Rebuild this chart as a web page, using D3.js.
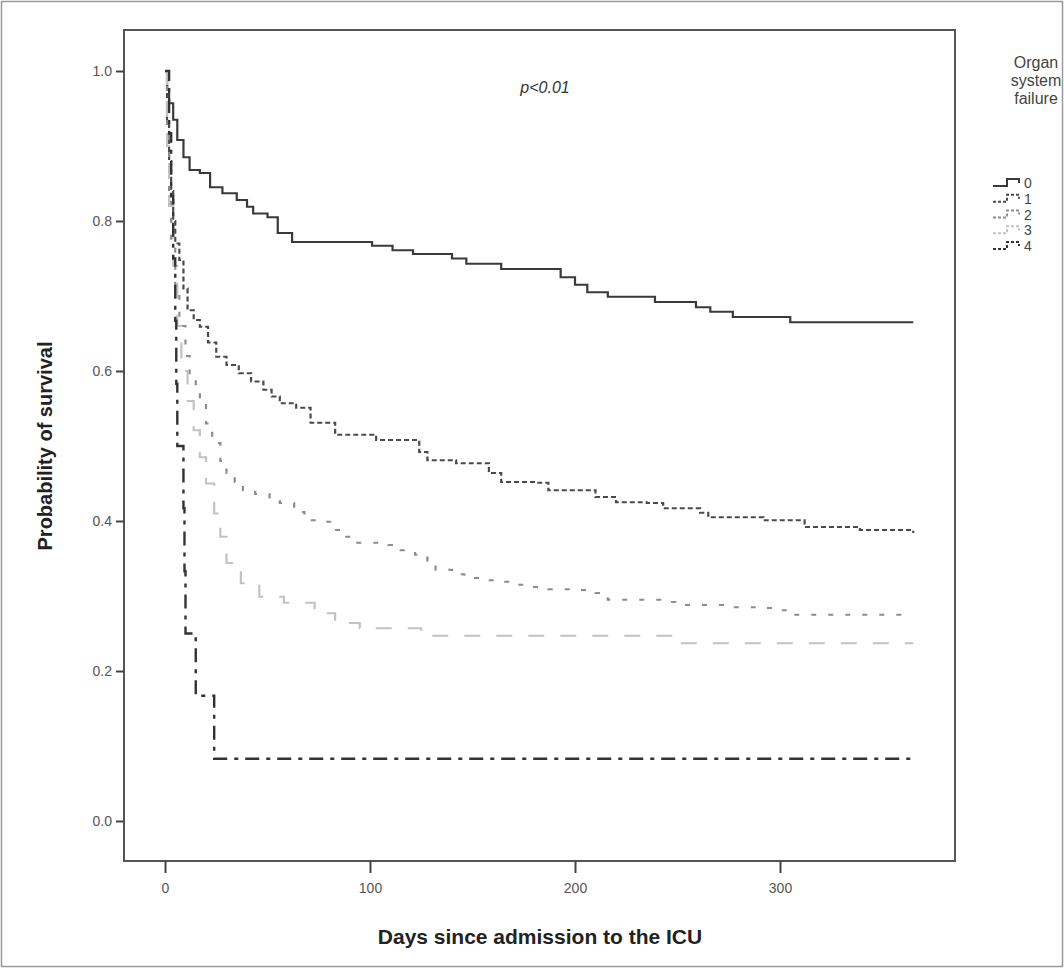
<!DOCTYPE html>
<html>
<head>
<meta charset="utf-8">
<script src="https://cdn.jsdelivr.net/npm/d3@7"></script>
<style>
  html, body { margin: 0; padding: 0; background: #fff; }
  svg { display: block; }
</style>
</head>
<body>
<svg id="chart" width="1064" height="968"></svg>
<script>
// ---- Data ----
const groups = ["0", "1", "2", "3", "4"];
const xTicks = [0, 100, 200, 300];
const yTicks = [0.0, 0.2, 0.4, 0.6, 0.8, 1.0];

const days0 = [0,1,2,4,6,9,12,17,22,28,35,40,43,50,55,62,101,111,121,140,147,164,193,200,206,216,239,259,266,277,305,365];
const surv0 = [1.0,0.975,0.957,0.935,0.908,0.885,0.868,0.864,0.845,0.837,0.828,0.819,0.81,0.805,0.784,0.772,0.767,0.761,0.756,0.75,0.743,0.736,0.725,0.715,0.705,0.699,0.692,0.685,0.679,0.672,0.665,0.665];

const days1 = [0,1,2,3,4,5,7,9,11,14,17,21,25,30,36,42,48,52,56,64,71,83,103,124,128,142,158,164,181,187,210,220,235,243,261,265,292,312,339,365];
const surv1 = [1.0,0.93,0.88,0.84,0.80,0.77,0.748,0.71,0.681,0.668,0.659,0.638,0.619,0.608,0.597,0.586,0.575,0.566,0.557,0.551,0.531,0.515,0.508,0.492,0.481,0.477,0.464,0.452,0.451,0.441,0.432,0.425,0.424,0.417,0.411,0.405,0.401,0.392,0.388,0.384];

const days2 = [0,1,2,3,5,7,10,12,15,17,20,23,27,30,34,38,44,51,56,63,68,76,82,87,93,109,115,122,128,132,140,146,155,163,171,180,187,202,210,216,243,249,275,292,300,306,365];
const surv2 = [1.0,0.92,0.84,0.77,0.70,0.66,0.62,0.597,0.575,0.557,0.53,0.504,0.48,0.464,0.452,0.441,0.436,0.428,0.424,0.412,0.401,0.399,0.388,0.379,0.371,0.368,0.361,0.355,0.345,0.335,0.329,0.324,0.321,0.319,0.315,0.312,0.309,0.308,0.304,0.295,0.292,0.288,0.285,0.284,0.281,0.275,0.275];

const days3 = [0,1,2,4,6,8,11,14,17,20,24,27,30,37,46,58,73,83,95,125,251,365];
const surv3 = [1.0,0.9,0.82,0.74,0.66,0.6,0.56,0.521,0.485,0.45,0.41,0.379,0.344,0.317,0.299,0.291,0.277,0.264,0.257,0.247,0.237,0.237];

const days4 = [0,2,3,4,5,5.5,6,9,9.5,10,15,24,365];
const surv4 = [1.0,0.917,0.833,0.75,0.667,0.583,0.5,0.417,0.333,0.25,0.167,0.083,0.083];

const pLabel = "p<0.01";
const legendTitle = ["Organ", "system", "failure"];
const xTitle = "Days since admission to the ICU";
const yTitle = "Probability of survival";

// ---- Styles ----
const styles = [
  { color: "#3a3a3a", dash: null,          width: 2.2 },
  { color: "#4a4a4a", dash: "5,3",         width: 2.2 },
  { color: "#8c8c8c", dash: "5,12",        width: 2.2 },
  { color: "#c2c2c2", dash: "16,16",       width: 2.2 },
  { color: "#333333", dash: "14,7,4,7",    width: 2.4 }
];

const series = [
  { name: groups[0], days: days0, surv: surv0 },
  { name: groups[1], days: days1, surv: surv1 },
  { name: groups[2], days: days2, surv: surv2 },
  { name: groups[3], days: days3, surv: surv3 },
  { name: groups[4], days: days4, surv: surv4 }
];

// ---- Layout ----
const svg = d3.select("#chart");
const frame = { left: 124, top: 30, right: 955, bottom: 861 };

const x = d3.scaleLinear().domain([0, 300]).range([165, 780]);
const y = d3.scaleLinear().domain([0, 1]).range([821, 71]);

// outer border
svg.append("rect")
  .attr("x", 1.5).attr("y", 1.5)
  .attr("width", 1061).attr("height", 965)
  .attr("fill", "#fff")
  .attr("stroke", "#9a9a9a").attr("stroke-width", 1.5);

// plot frame
svg.append("rect")
  .attr("x", frame.left).attr("y", frame.top)
  .attr("width", frame.right - frame.left)
  .attr("height", frame.bottom - frame.top)
  .attr("fill", "#fff")
  .attr("stroke", "#555").attr("stroke-width", 2);

// axes
const yAxis = d3.axisLeft(y).tickValues(yTicks).tickFormat(d3.format(".1f")).tickSize(8).tickPadding(4);
const gy = svg.append("g").attr("transform", `translate(${frame.left},0)`).call(yAxis);
gy.select(".domain").remove();
gy.selectAll(".tick line").attr("stroke", "#444").attr("stroke-width", 2);
gy.selectAll(".tick text").attr("fill", "#555").style("font-family", "Liberation Sans, Arial, sans-serif").style("font-size", "14px");

const xAxis = d3.axisBottom(x).tickValues(xTicks).tickFormat(d3.format("d")).tickSize(12).tickPadding(10);
const gx = svg.append("g").attr("transform", `translate(0,${frame.bottom})`).call(xAxis);
gx.select(".domain").remove();
gx.selectAll(".tick line").attr("stroke", "#444").attr("stroke-width", 2);
gx.selectAll(".tick text").attr("fill", "#555").style("font-family", "Liberation Sans, Arial, sans-serif").style("font-size", "14px");

// curves
const line = d3.line()
  .x(d => x(d[0]))
  .y(d => y(d[1]))
  .curve(d3.curveStepAfter);

series.forEach((s, i) => {
  const pts = s.days.map((d, j) => [d, s.surv[j]]);
  svg.append("path")
    .datum(pts)
    .attr("d", line)
    .attr("fill", "none")
    .attr("stroke", styles[i].color)
    .attr("stroke-width", styles[i].width)
    .attr("stroke-dasharray", styles[i].dash)
    .attr("stroke-linejoin", "miter");
});

// p-value
svg.append("text")
  .attr("x", 545).attr("y", 93)
  .attr("text-anchor", "middle")
  .style("font-family", "Liberation Sans, Arial, sans-serif")
  .style("font-size", "16px")
  .style("font-style", "italic")
  .attr("fill", "#333")
  .text(pLabel);

// axis titles
svg.append("text")
  .attr("x", 540).attr("y", 944)
  .attr("text-anchor", "middle")
  .style("font-family", "Liberation Sans, Arial, sans-serif")
  .style("font-size", "21px")
  .style("font-weight", "bold")
  .attr("fill", "#222")
  .text(xTitle);

svg.append("text")
  .attr("transform", "translate(52,446) rotate(-90)")
  .attr("text-anchor", "middle")
  .style("font-family", "Liberation Sans, Arial, sans-serif")
  .style("font-size", "20px")
  .style("font-weight", "bold")
  .attr("fill", "#222")
  .text(yTitle);

// legend
const lg = svg.append("g");
legendTitle.forEach((t, i) => {
  lg.append("text")
    .attr("x", 1036).attr("y", 68 + i * 18)
    .attr("text-anchor", "middle")
    .style("font-family", "Liberation Sans, Arial, sans-serif")
    .style("font-size", "16px")
    .attr("fill", "#444")
    .text(t);
});
const legY = d3.scalePoint().domain(groups).range([183, 246]);
groups.forEach((g, i) => {
  const yy = legY(g);
  lg.append("path")
    .attr("d", `M993,${yy + 3} H1007 V${yy - 4} H1019 V${yy}`)
    .attr("fill", "none")
    .attr("stroke", styles[i].color)
    .attr("stroke-width", 2)
    .attr("stroke-dasharray", styles[i].dash ? "3,2" : null);
  lg.append("text")
    .attr("x", 1024).attr("y", yy + 5)
    .style("font-family", "Liberation Sans, Arial, sans-serif")
    .style("font-size", "14px")
    .attr("fill", "#444")
    .text(g);
});
</script>
</body>
</html>
